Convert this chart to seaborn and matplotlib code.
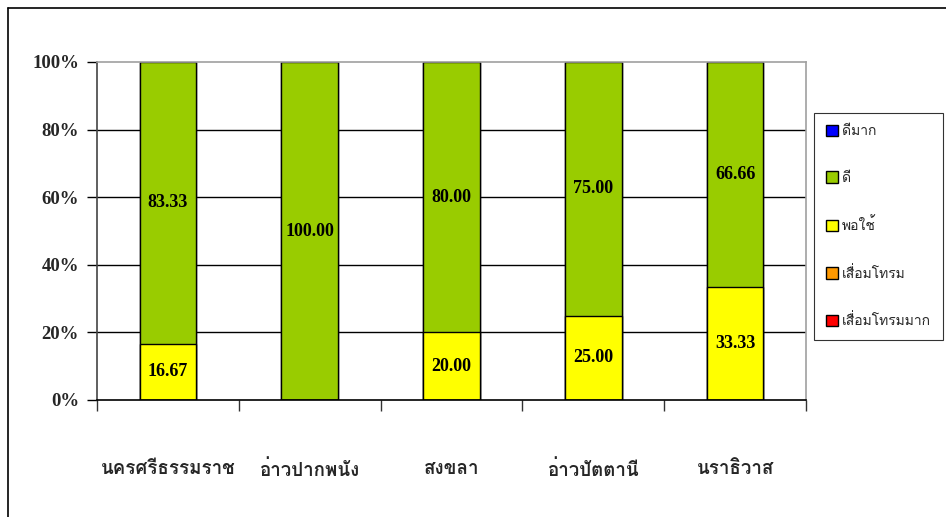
import matplotlib
matplotlib.use("Agg")
import matplotlib.pyplot as plt
from matplotlib import font_manager
from matplotlib.ft2font import FT2Font
from matplotlib.patches import Patch
from matplotlib.lines import Line2D
from matplotlib.ticker import FixedLocator, PercentFormatter
import seaborn as sns
import pandas as pd
import numpy as np

# ---- data -------------------------------------------------------------
areas = ["นครศรีธรรมราช", "อ่าวปากพนัง", "สงขลา", "อ่าวปัตตานี", "นราธิวาส"]
very_good = [0, 0, 0, 0, 0]            # ดีมาก
good = [83.33, 100.00, 80.00, 75.00, 66.66]  # ดี
fair = [16.67, 0, 20.00, 25.00, 33.33]   # พอใช้
poor = [0, 0, 0, 0, 0]                 # เสื่อมโทรม
very_poor = [0, 0, 0, 0, 0]            # เสื่อมโทรมมาก

series_names = ["ดีมาก", "ดี", "พอใช้", "เสื่อมโทรม", "เสื่อมโทรมมาก"]
series_colors = ["#0000FF", "#99CC00", "#FFFF00", "#FF9900", "#FF0000"]
y_ticks = [0, 20, 40, 60, 80, 100]


def find_thai_family():
    """Return the name of an installed font that has Thai glyphs."""
    for fe in font_manager.fontManager.ttflist:
        try:
            cmap = FT2Font(fe.fname).get_charmap()
        except Exception:
            continue
        if 0x0E19 in cmap and 0x0E34 in cmap and 0x0E48 in cmap:
            return fe.name
    return None


sns.set_style("white")
thai = find_thai_family()
num_family = ["Liberation Serif", "DejaVu Serif"]
thai_family = ([thai] if thai else []) + ["Liberation Serif", "DejaVu Sans"]
plt.rcParams["font.family"] = thai_family

df = pd.DataFrame({
    "area": areas,
    "ดีมาก": very_good,
    "ดี": good,
    "พอใช้": fair,
    "เสื่อมโทรม": poor,
    "เสื่อมโทรมมาก": very_poor,
})

# stacking from the bottom: เสื่อมโทรมมาก, เสื่อมโทรม, พอใช้, ดี, ดีมาก
bottom_up = series_names[::-1]
cum = df[bottom_up].cumsum(axis=1)

fig = plt.figure(figsize=(9.46, 5.17), dpi=100)
ax = fig.add_axes([97 / 946, 1 - 400 / 517, (806 - 97) / 946, (400 - 62) / 517])

# draw cumulative totals, tallest first, so each layer sits on the one below
for name, color in zip(series_names, series_colors):
    sns.barplot(data=cum.assign(area=df["area"]), x="area", y=name, order=areas,
                color=color, width=0.4, edgecolor="black", linewidth=1.0,
                saturation=1, ax=ax, errorbar=None)

# value labels inside each non-empty segment
for i in range(len(areas)):
    base = 0.0
    for name in bottom_up:
        v = df.loc[i, name]
        if v > 0:
            ax.text(i, base + v / 2, f"{v:.2f}", ha="center", va="center",
                    fontsize=13, fontweight="bold", family=num_family, color="black")
        base += v

ax.set_xlim(-0.5, len(areas) - 0.5)
ax.set_ylim(0, 100)
ax.set_xlabel("")
ax.set_ylabel("")

# y axis
ax.yaxis.set_major_locator(FixedLocator(y_ticks))
ax.yaxis.set_major_formatter(PercentFormatter(decimals=0))
for lab in ax.get_yticklabels():
    lab.set_fontfamily(num_family)
    lab.set_fontweight("bold")
    lab.set_fontsize(13.5)
ax.tick_params(axis="y", direction="out", length=7, width=1, color="black", pad=6, left=True)
for y in y_ticks[1:-1]:
    ax.axhline(y, color="black", linewidth=1, zorder=0)

# x axis: ticks at category boundaries, labels at category centres
ax.set_xticks(np.arange(len(areas) + 1) - 0.5)
ax.set_xticklabels([])
ax.set_xticks(np.arange(len(areas)), minor=True)
ax.set_xticklabels(areas, minor=True, fontsize=13.5, fontweight="bold")
ax.tick_params(axis="x", which="major", direction="out", length=8, width=1,
               color="#333333", bottom=True)
ax.tick_params(axis="x", which="minor", length=0, pad=43)

for side in ["top", "right"]:
    ax.spines[side].set_color("#A0A0A0")
    ax.spines[side].set_linewidth(1.2)
ax.spines["left"].set_color("#444444")
ax.spines["bottom"].set_color("black")
for side in ["left", "bottom"]:
    ax.spines[side].set_linewidth(1.2)

# legend, boxed at the right of the plot area
handles = [Patch(facecolor=c, edgecolor="black", linewidth=1.0) for c in series_colors]
leg = fig.legend(handles, series_names, loc="upper right",
                 bbox_to_anchor=(943 / 946, 1 - 113 / 517), frameon=True,
                 fancybox=False, edgecolor="black", fontsize=10,
                 handlelength=0.9, handleheight=0.9, handletextpad=0.3,
                 labelspacing=2.35, borderpad=0.85, borderaxespad=0)
leg.get_frame().set_linewidth(0.8)

# outer chart frame
fig.add_artist(Line2D([8 / 946, 8 / 946], [1 - 8 / 517, 0], transform=fig.transFigure,
                      color="black", linewidth=1.2))
fig.add_artist(Line2D([8 / 946, 1], [1 - 8 / 517, 1 - 8 / 517], transform=fig.transFigure,
                      color="black", linewidth=1.2))

fig.savefig("out.png", dpi=100)
